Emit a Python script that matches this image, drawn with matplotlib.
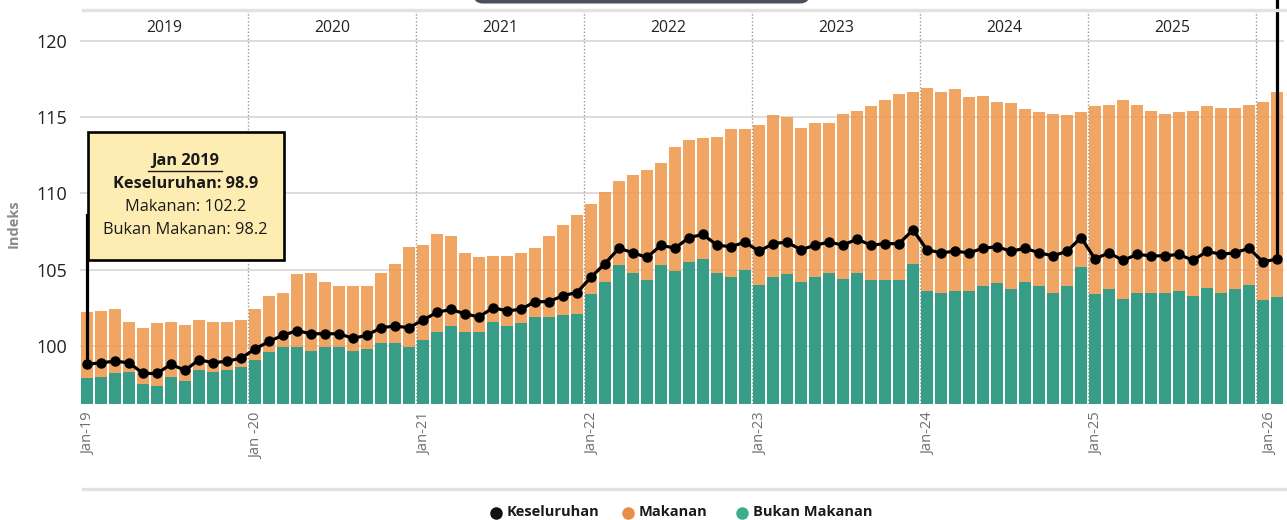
import matplotlib
matplotlib.use("Agg")
import matplotlib.pyplot as plt
from matplotlib.patches import Rectangle, FancyBboxPatch
from matplotlib.lines import Line2D
from matplotlib.transforms import IdentityTransform, ScaledTranslation

plt.rcParams['font.family'] = ['Open Sans', 'DejaVu Sans']

# ---------------- data ----------------
makanan = [102.2, 102.3, 102.4, 101.6, 101.2, 101.5, 101.6, 101.4, 101.7, 101.6, 101.6, 101.7,
           102.4, 103.3, 103.5, 104.7, 104.8, 104.2, 103.9, 103.9, 103.9, 104.8, 105.4, 106.5,
           106.6, 107.3, 107.2, 106.1, 105.8, 105.9, 105.9, 106.1, 106.4, 107.2, 107.9, 108.6,
           109.3, 110.1, 110.8, 111.2, 111.5, 112.0, 113.0, 113.5, 113.6, 113.7, 114.2, 114.2,
           114.5, 115.1, 115.0, 114.3, 114.6, 114.6, 115.2, 115.4, 115.7, 116.1, 116.5, 116.6,
           116.9, 116.6, 116.8, 116.3, 116.4, 116.0, 115.9, 115.5, 115.3, 115.2, 115.1, 115.3,
           115.7, 115.8, 116.1, 115.8, 115.4, 115.2, 115.3, 115.4, 115.7, 115.6, 115.6, 115.8,
           116.0, 116.6]

bukan_makanan = [97.9, 98.0, 98.2, 98.3, 97.5, 97.4, 98.0, 97.7, 98.4, 98.3, 98.4, 98.6,
                 99.1, 99.6, 99.9, 99.9, 99.7, 99.9, 99.9, 99.7, 99.8, 100.2, 100.2, 99.9,
                 100.4, 100.9, 101.3, 100.9, 100.9, 101.6, 101.3, 101.5, 101.9, 101.9, 102.0, 102.1,
                 103.4, 104.2, 105.3, 104.8, 104.3, 105.3, 104.9, 105.5, 105.7, 104.8, 104.5, 105.0,
                 104.0, 104.5, 104.7, 104.2, 104.5, 104.8, 104.4, 104.8, 104.3, 104.3, 104.3, 105.4,
                 103.6, 103.5, 103.6, 103.6, 103.9, 104.1, 103.7, 104.2, 103.9, 103.5, 103.9, 105.2,
                 103.4, 103.7, 103.1, 103.5, 103.5, 103.5, 103.6, 103.3, 103.8, 103.5, 103.7, 104.0,
                 103.0, 103.2]

keseluruhan = [98.8, 98.9, 99.0, 98.9, 98.2, 98.2, 98.8, 98.4, 99.1, 98.9, 99.0, 99.2,
               99.8, 100.3, 100.7, 101.0, 100.8, 100.8, 100.8, 100.5, 100.7, 101.2, 101.3, 101.2,
               101.7, 102.2, 102.4, 102.1, 101.9, 102.5, 102.3, 102.4, 102.9, 102.9, 103.3, 103.5,
               104.5, 105.4, 106.4, 106.1, 105.8, 106.6, 106.4, 107.1, 107.3, 106.6, 106.5, 106.8,
               106.2, 106.7, 106.8, 106.3, 106.6, 106.8, 106.6, 107.0, 106.6, 106.7, 106.7, 107.6,
               106.3, 106.1, 106.2, 106.1, 106.4, 106.5, 106.2, 106.4, 106.1, 105.9, 106.2, 107.1,
               105.7, 106.1, 105.6, 106.0, 105.9, 105.9, 106.0, 105.6, 106.2, 106.0, 106.1, 106.4,
               105.5, 105.7]

years = ["2019", "2020", "2021", "2022", "2023", "2024", "2025"]
tick_labels = ["Jan-19", "Jan -20", "Jan-21", "Jan-22", "Jan-23", "Jan-24", "Jan-25", "Jan-26"]
y_ticks = [100, 105, 110, 115, 120]

tooltip_title = "Jan 2019"
tooltip_lines = ["Keseluruhan: 98.9", "Makanan: 102.2", "Bukan Makanan: 98.2"]
legend_labels = ["Keseluruhan", "Makanan", "Bukan Makanan"]

# ---------------- figure ----------------
W, H = 1287, 520
fig = plt.figure(figsize=(W / 100, H / 100), dpi=100)

def fx(x):
    return x / W

def fy(y):
    return 1 - y / H

ax = fig.add_axes([fx(80), fy(404), fx(1284) - fx(80), fy(10) - fy(404)])
x = list(range(len(makanan)))

C_GR = '#389D86'

for yt in y_ticks:
    ax.axhline(yt, color='#DADADA', lw=1.3, zorder=0)

ax.bar(x, makanan, width=0.9, bottom=0, color='#EF9B51', alpha=0.9, zorder=1, linewidth=0)
ax.bar(x, bukan_makanan, width=0.9, bottom=0, color=C_GR, zorder=2, linewidth=0)

# year separators
for k in range(1, 8):
    ax.axvline(k * 12 - 0.5, color='#9A9A9A', lw=1.0, linestyle=(0, (1, 1.5)), zorder=3)

# year labels
for i, yl in enumerate(years):
    ax.text(i * 12 + 5.5, 120.8, yl, ha='center', va='center', fontsize=11.3, color='#222222')

ax.plot(x, keseluruhan, color='black', lw=2.3, marker='o', markersize=6.5, zorder=5)

ax.set_ylim(96.2, 122.0)
ax.set_xlim(-0.5, 85.5)
ax.set_yticks(y_ticks)
ax.set_yticklabels([str(v) for v in y_ticks], fontsize=13, color='#222222')
ax.set_xticks(list(range(0, 86, 12)))
ax.set_xticklabels(tick_labels, rotation=90, fontsize=10.5, color='#6E6E6E')
ax.tick_params(axis='both', length=0)
ax.tick_params(axis='y', pad=9)
ax.tick_params(axis='x', pad=6)
for s in ax.spines.values():
    s.set_visible(False)
xl = ax.get_xticklabels()
for lab in xl[:-1]:
    lab.set_transform(lab.get_transform() + ScaledTranslation(2 / 100, 0, fig.dpi_scale_trans))
xl[-1].set_transform(xl[-1].get_transform() + ScaledTranslation(8 / 100, 0, fig.dpi_scale_trans))

# hover lines
ax.add_line(Line2D([0, 0], [keseluruhan[0], 108.6], color='black', lw=2.3, zorder=6, clip_on=False))
ax.add_line(Line2D([85, 85], [keseluruhan[-1], 122.7], color='black', lw=2.3, zorder=6, clip_on=False))

# y label
fig.text(fx(14), fy(224), "Indeks", rotation=90, ha='center', va='center', fontsize=10.5,
         color='#8A8A8A', fontweight='bold')

# top/bottom gray rules
fig.add_artist(Line2D([fx(83), fx(1287)], [fy(9.5), fy(9.5)], color='#E2E2E2', lw=2.4))
fig.add_artist(Line2D([fx(83), fx(1287)], [fy(488.5), fy(488.5)], color='#E2E2E2', lw=2.4))

# top dark rounded box (partially visible)
box = FancyBboxPatch((473, H - 3.5), 337, 30, boxstyle="round,pad=0,rounding_size=10",
                     transform=IdentityTransform(), facecolor='#4B4E5E', edgecolor='none')
fig.add_artist(box)

# tooltip
tip = Rectangle((fx(87.5), fy(259.5)), fx(284) - fx(87.5), fy(132) - fy(259.5),
                transform=fig.transFigure, facecolor='#FDEDB3', edgecolor='black', lw=1.9, zorder=10)
fig.add_artist(tip)
cx = fx(185.5)
fs_tip = 11.8
fig.text(cx, fy(161), tooltip_title, ha='center', va='center', fontsize=fs_tip, fontweight='bold',
         color='#1a1a1a', zorder=11)
fig.add_artist(Line2D([fx(148), fx(222)], [fy(171), fy(171)], color='#1a1a1a', lw=1.0, zorder=11))
fig.text(cx, fy(184), tooltip_lines[0], ha='center', va='center', fontsize=fs_tip, fontweight='bold',
         color='#1a1a1a', zorder=11)
fig.text(cx, fy(207), tooltip_lines[1], ha='center', va='center', fontsize=fs_tip, color='#1a1a1a', zorder=11)
fig.text(cx, fy(229.5), tooltip_lines[2], ha='center', va='center', fontsize=fs_tip, color='#1a1a1a', zorder=11)

# legend
leg_items = [(496, '#111111', legend_labels[0]), (628, '#EA8D45', legend_labels[1]),
             (742, '#3AAE8F', legend_labels[2])]
for px, col, lab in leg_items:
    fig.add_artist(Line2D([fx(px)], [fy(512.5)], marker='o', markersize=8, color=col, linestyle='none'))
    fig.text(fx(px + 11), fy(512.5), lab, ha='left', va='center', fontsize=10.5, fontweight='bold',
             color='#1a1a1a')

fig.savefig("out.png", dpi=100)
